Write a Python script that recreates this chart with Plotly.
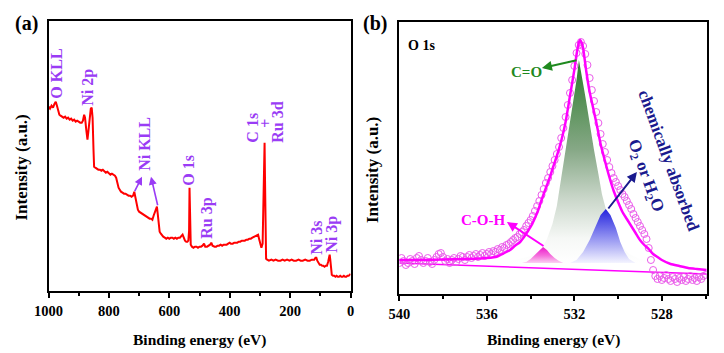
import plotly.graph_objects as go

FONT = "Liberation Serif"
W, H = 724, 353

# ---------------- Panel (a): survey spectrum ----------------
survey_energy = [1000, 995, 990, 985, 980, 976, 972, 968, 964, 960, 955, 950, 945, 940, 935, 930, 925, 920,
                 915, 910, 905, 900, 895, 890, 886, 882, 879, 875, 871, 868, 864, 860, 857, 854, 851, 849,
                 845, 840, 835, 830, 825, 820, 815, 810, 805, 800, 795, 790, 785, 780, 776, 772, 768, 764,
                 760, 755, 750, 745, 740, 735, 730, 725, 720, 716, 712, 708, 704, 700, 695, 690, 685, 680,
                 675, 670, 665, 660, 656, 652, 648, 644, 641, 638, 635, 632, 628, 624, 620, 615, 610, 605,
                 600, 595, 590, 585, 580, 575, 570, 565, 560, 556, 552, 548, 544, 540, 537, 534.5, 533,
                 531.5, 529, 525, 520, 515, 510, 505, 500, 495, 490, 485, 481, 475, 470, 465, 461, 457,
                 450, 445, 440, 435, 430, 425, 420, 415, 410, 405, 400, 396, 390, 385, 380, 375, 370, 365,
                 360, 355, 350, 345, 340, 335, 330, 325, 320, 315, 310, 306, 302, 298, 295, 291, 288.5,
                 286.5, 284.5, 283, 281.5, 279.5, 276, 270, 262, 255, 248, 240, 232, 225, 218, 210, 202,
                 195, 188, 180, 172, 165, 158, 150, 142, 135, 128, 120, 116, 113, 110, 106, 102, 98, 94,
                 90, 86, 82, 78, 74, 71, 69, 67, 65, 62, 58, 54, 50, 46, 42, 38, 34, 30, 26, 22, 18, 14,
                 10, 6, 2, 0]
survey_intensity = [184, 182, 185, 183, 187, 189, 185, 179, 176, 175, 174, 173, 174, 172, 173, 171, 172, 170,
                    171, 169, 170, 169, 168, 168, 170, 176, 173, 161, 151, 159, 173, 182, 183, 173, 141, 124,
                    123, 122, 121, 121, 120, 121, 119, 118, 119, 117, 116, 117, 116, 115, 113, 107, 103, 101,
                    99, 98, 97, 97, 96, 95, 95, 94, 95, 99, 93, 85, 81, 79, 78, 77, 76, 75,
                    74, 73, 72, 72, 71, 75, 79, 82, 84, 76, 63, 59, 57, 55, 54, 53, 52, 53,
                    52, 53, 53, 52, 53, 52, 53, 53, 55, 56, 53, 50, 49, 49, 50, 60, 103,
                    60, 46, 44, 43, 44, 44, 43, 44, 44, 45, 47, 44, 44, 45, 46, 48, 45,
                    44, 44, 45, 45, 46, 45, 46, 46, 46, 47, 48, 47, 47, 48, 48, 48, 49, 49,
                    50, 50, 50, 51, 51, 52, 52, 53, 54, 55, 56, 56, 51, 44, 43, 47, 80,
                    125, 148, 110, 50, 32, 31, 30, 31, 30, 31, 30, 30, 31, 30, 31, 30,
                    31, 30, 30, 31, 30, 30, 31, 30, 30, 31, 31, 33, 33, 30, 27, 26, 26, 25,
                    25, 24, 25, 25, 29, 35, 36, 31, 21, 16, 15, 15, 14, 15, 14, 14, 15, 14, 14, 15, 14, 14,
                    15, 15, 16, 17]

survey_labels = ["O KLL", "Ni 2p", "Ni KLL", "O 1s", "Ru 3p", "C 1s", "+", "Ru 3d", "Ni 3s", "Ni 3p"]
survey_label_energy = [972, 869, 680, 535, 475, 323, 280, 240, 111, 61]
survey_label_intensity = [217, 203, 147, 121, 72, 163, 168, 168, 53, 56]

# ---------------- Panel (b): O 1s high resolution ----------------
o1s_energy = [540.0, 539.9, 539.8, 539.7, 539.6, 539.5, 539.4, 539.3, 539.2, 539.1,
              539.0, 538.9, 538.8, 538.7, 538.6, 538.5, 538.4, 538.3, 538.2, 538.1,
              538.0, 537.9, 537.8, 537.7, 537.6, 537.5, 537.4, 537.3, 537.2, 537.1,
              537.0, 536.9, 536.8, 536.7, 536.6, 536.5, 536.4, 536.3, 536.2, 536.1,
              536.0, 535.9, 535.8, 535.7, 535.6, 535.5, 535.4, 535.3, 535.2, 535.1,
              535.0, 534.9, 534.8, 534.7, 534.6, 534.5, 534.4, 534.3, 534.2, 534.1,
              534.0, 533.9, 533.8, 533.7, 533.6, 533.5, 533.4, 533.3, 533.2, 533.1,
              533.0, 532.9, 532.8, 532.7, 532.6, 532.5, 532.4, 532.3, 532.2, 532.1,
              532.0, 531.9, 531.8, 531.7, 531.6, 531.5, 531.4, 531.3, 531.2, 531.1,
              531.0, 530.9, 530.8, 530.7, 530.6, 530.5, 530.4, 530.3, 530.2, 530.1,
              530.0, 529.9, 529.8, 529.7, 529.6, 529.5, 529.4, 529.3, 529.2, 529.1,
              529.0, 528.9, 528.8, 528.7, 528.6, 528.5, 528.4, 528.3, 528.2, 528.1,
              528.0, 527.9, 527.8, 527.7, 527.6, 527.5, 527.4, 527.3, 527.2, 527.1,
              527.0, 526.9, 526.8, 526.7, 526.6, 526.5, 526.4, 526.3, 526.2, 526.1,
              526.0]
o1s_counts = [31, 36, 33, 29, 31, 35, 33, 30, 36, 38,
              34, 31, 33, 36, 32, 30, 34, 37, 40, 41,
              37, 33, 35, 31, 34, 36, 32, 35, 38, 37,
              34, 37, 39, 36, 38, 40, 37, 39, 41, 38,
              40, 42, 40, 43, 42, 45, 44, 47, 46, 49,
              50, 52, 54, 56, 57, 60, 62, 64, 68, 71,
              74, 78, 83, 88, 93, 99, 105, 111, 116, 122,
              128, 134, 140, 147, 156, 166, 177, 189, 201, 214,
              228, 241, 249, 252, 248, 240, 229, 216, 204, 193,
              182, 171, 160, 150, 142, 134, 127, 121, 116, 112,
              108, 104, 100, 97, 93, 89, 85, 80, 76, 72,
              68, 64, 60, 55, 46, 34, 24, 18, 15, 18,
              14, 16, 19, 15, 13, 17, 15, 12, 16, 14,
              17, 13, 15, 18, 14, 16, 13, 17, 15, 18,
              19]

envelope_energy = [540.0, 539.0, 538.0, 537.0, 536.3, 535.6, 535.2, 534.94, 534.7, 534.48, 534.3, 534.12,
                   533.95, 533.8, 533.65, 533.53, 533.4, 533.25, 533.1, 532.97, 532.8, 532.6, 532.4, 532.2,
                   532.0, 531.88, 531.8, 531.74, 531.66, 531.6, 531.45, 531.3, 531.2, 531.0, 530.8, 530.6,
                   530.4, 530.2, 530.0, 529.8, 529.6, 529.4, 529.2, 529.0, 528.8, 528.6, 528.4, 528.2,
                   528.0, 527.6, 527.2, 526.8, 526.4, 525.95]
envelope_counts = [34, 34, 34.5, 35, 35.5, 37, 41, 44, 48.5, 52, 57, 63,
                   69, 76, 84, 92, 100, 109, 118, 127, 138, 153, 172, 198,
                   224, 242, 251, 254, 251, 246, 222, 202, 192, 172, 150, 133,
                   117, 103, 92, 82, 75, 68, 61, 54, 49, 45, 40, 37,
                   34, 30, 28, 26, 25, 24]

background_energy = [540.0, 525.95]
background_counts = [31, 20]

peak_base = 31
co_energy = [535.0, 534.5, 534.0, 533.5, 533.25, 533.0, 532.8, 532.6, 532.43, 532.2, 532.02, 531.9, 531.79,
             531.68, 531.58, 531.47, 531.3, 531.1, 530.9, 530.74, 530.5, 530.25, 530.0, 529.5, 529.0, 528.5]
co_counts = [33, 35, 38, 45, 55, 70, 88, 115, 140, 170, 194, 214, 234,
             222, 208, 194, 170, 144, 120, 100, 80, 63, 52, 40, 35, 33]
coh_energy = [534.4, 534.2, 534.0, 533.8, 533.6, 533.43, 533.25, 533.1, 532.9, 532.7, 532.5]
coh_counts = [31, 32, 35, 39, 44, 47, 44, 40, 36, 33, 31]
ads_energy = [532.2, 531.9, 531.6, 531.3, 531.0, 530.8, 530.56, 530.35, 530.1, 529.9, 529.7, 529.5, 529.2]
ads_counts = [31, 34, 42, 54, 69, 79, 85, 79, 66, 52, 42, 35, 31]

# ---------------- figure ----------------
def pxx(x):
    return x / W


def pxy(y):
    return 1 - y / H


fig = go.Figure()

fig.add_trace(go.Scatter(x=survey_energy, y=survey_intensity, mode="lines",
                         line=dict(color="#ff0000", width=2), xaxis="x", yaxis="y"))


def comp_trace(en, ct, scale):
    xs = list(en) + [en[-1], en[0]]
    ys = list(ct) + [peak_base, peak_base]
    return go.Scatter(x=xs, y=ys, mode="lines", fill="toself",
                      line=dict(width=0, color="rgba(0,0,0,0)"),
                      fillgradient=dict(type="vertical", colorscale=scale,
                                        start=peak_base, stop=max(ct)),
                      xaxis="x2", yaxis="y2")


fig.add_trace(comp_trace(co_energy, co_counts,
                         [[0, "#ffffff"], [0.12, "#f6f8f6"], [0.32, "#c9d6c9"],
                          [0.56, "#86a886"], [1, "#2e7d2e"]]))
fig.add_trace(comp_trace(coh_energy, coh_counts,
                         [[0, "#fbd2f2"], [0.45, "#f570dc"], [1, "#ee18cc"]]))
fig.add_trace(comp_trace(ads_energy, ads_counts,
                         [[0, "#f4f4ff"], [0.5, "#8c8cf0"], [1, "#2424dd"]]))

fig.add_trace(go.Scatter(x=background_energy, y=background_counts, mode="lines",
                         line=dict(color="#ff00ff", width=1.5), xaxis="x2", yaxis="y2"))
fig.add_trace(go.Scatter(x=o1s_energy, y=o1s_counts, mode="markers",
                         marker=dict(symbol="circle-open", size=7, color="#ea5cea",
                                     line=dict(width=1, color="#ea5cea")),
                         xaxis="x2", yaxis="y2"))
fig.add_trace(go.Scatter(x=envelope_energy, y=envelope_counts, mode="lines",
                         line=dict(color="#ff00ff", width=2.5, shape="spline", smoothing=0.6),
                         xaxis="x2", yaxis="y2"))

tickfont = dict(family=FONT, size=14.5, color="black", weight="bold")
common_x = dict(showline=True, linewidth=2, linecolor="black", mirror=True, ticks="outside",
                ticklen=5, tickwidth=2, tickcolor="black", showgrid=False, zeroline=False,
                tickfont=tickfont, ticklabelstandoff=1, automargin=False)
common_y = dict(showline=True, linewidth=2, linecolor="black", mirror=True, ticks="",
                showticklabels=False, showgrid=False, zeroline=False, automargin=False)

fig.update_layout(
    width=W, height=H, margin=dict(l=0, r=0, t=0, b=0, autoexpand=False),
    paper_bgcolor="white", plot_bgcolor="white", showlegend=False,
    xaxis=dict(domain=[pxx(48.5), pxx(350.5)], range=[1000, 0], dtick=200, tick0=0,
               minor=dict(ticks="outside", ticklen=3, tickwidth=2, tickcolor="black", dtick=100, tick0=0),
               anchor="y", **common_x),
    yaxis=dict(domain=[pxy(290.7), pxy(20.7)], range=[0, 270], anchor="x", **common_y),
    xaxis2=dict(domain=[pxx(399.3), pxx(706.7)], range=[540, 525.95], dtick=4, tick0=0,
                minor=dict(ticks="outside", ticklen=3, tickwidth=2, tickcolor="black", dtick=2, tick0=0),
                anchor="y2", **common_x),
    yaxis2=dict(domain=[pxy(294), pxy(21.7)], range=[0, 272.3], anchor="x2", **common_y),
)

ann = []
purple = "#9a3cf5"
for t, e, v in zip(survey_labels, survey_label_energy, survey_label_intensity):
    ann.append(dict(text=t, x=e, y=v, xref="x", yref="y", showarrow=False, textangle=-90,
                    xanchor="center", yanchor="middle",
                    font=dict(family=FONT, size=16, color=purple, weight="bold")))
# Ni KLL arrows (tail on spectrum, head at label)
ann.append(dict(text="", x=690.4, y=114, ax=717, ay=98, xref="x", yref="y", axref="x", ayref="y",
                showarrow=True, arrowhead=2, arrowsize=1, arrowwidth=1.6, arrowcolor=purple))
ann.append(dict(text="", x=660.6, y=114, ax=637.4, ay=84, xref="x", yref="y", axref="x", ayref="y",
                showarrow=True, arrowhead=2, arrowsize=1, arrowwidth=1.6, arrowcolor=purple))

green = "#1f8a1f"
navy = "#1a1a8e"
magenta = "#ff00ff"
ann += [
    dict(text="O 1s", x=539.0, y=249, xref="x2", yref="y2", showarrow=False,
         xanchor="center", yanchor="middle",
         font=dict(family=FONT, size=14, color="black", weight="bold")),
    dict(text="C=O", x=534.2, y=222, xref="x2", yref="y2", showarrow=False,
         xanchor="center", yanchor="middle",
         font=dict(family=FONT, size=15, color=green, weight="bold")),
    dict(text="", x=533.48, y=226, ax=531.83, ay=234, xref="x2", yref="y2", axref="x2", ayref="y2",
         showarrow=True, arrowhead=2, arrowsize=1, arrowwidth=2, arrowcolor=green),
    dict(text="chemically absorbed", x=527.67, y=134, xref="x2", yref="y2", showarrow=False,
         xanchor="center", yanchor="middle",
         textangle=70, font=dict(family=FONT, size=17, color=navy, weight="bold")),
    dict(text="O<sub>2</sub> or H<sub>2</sub>O", x=528.77, y=118, xref="x2", yref="y2", showarrow=False,
         xanchor="center", yanchor="middle",
         textangle=70, font=dict(family=FONT, size=17, color=navy, weight="bold")),
    dict(text="", x=529.14, y=122, ax=530.5, ay=84, xref="x2", yref="y2", axref="x2", ayref="y2",
         showarrow=True, arrowhead=2, arrowsize=1, arrowwidth=2, arrowcolor=navy),
    dict(text="C-O-H", x=536.18, y=74, xref="x2", yref="y2", showarrow=False,
         xanchor="center", yanchor="middle",
         font=dict(family=FONT, size=15, color=magenta, weight="bold")),
    dict(text="", x=535.08, y=72, ax=533.34, ay=47, xref="x2", yref="y2", axref="x2", ayref="y2",
         showarrow=True, arrowhead=2, arrowsize=1, arrowwidth=2, arrowcolor=magenta),
]

title_font = dict(family=FONT, size=15.5, color="black", weight="bold")
ytitle_font = dict(family=FONT, size=17, color="black", weight="bold")
paper_ann = [
    ("Binding energy (eV)", 199.5, 340, 0, title_font),
    ("Binding energy (eV)", 553, 340, 0, title_font),
    ("Intensity (a.u.)", 21, 167.5, -90, ytitle_font),
    ("Intensity (a.u.)", 372, 170, -90, ytitle_font),
    ("(a)", 26, 24, 0, dict(family=FONT, size=20, color="black", weight="bold")),
    ("(b)", 375, 23, 0, dict(family=FONT, size=20, color="black", weight="bold")),
]
for t, x, y, ang, f in paper_ann:
    ann.append(dict(text=t, x=pxx(x), y=pxy(y), xref="paper", yref="paper", showarrow=False,
                    xanchor="center", yanchor="middle", textangle=ang, font=f))
fig.update_layout(annotations=ann)

fig.write_html("out.html")
